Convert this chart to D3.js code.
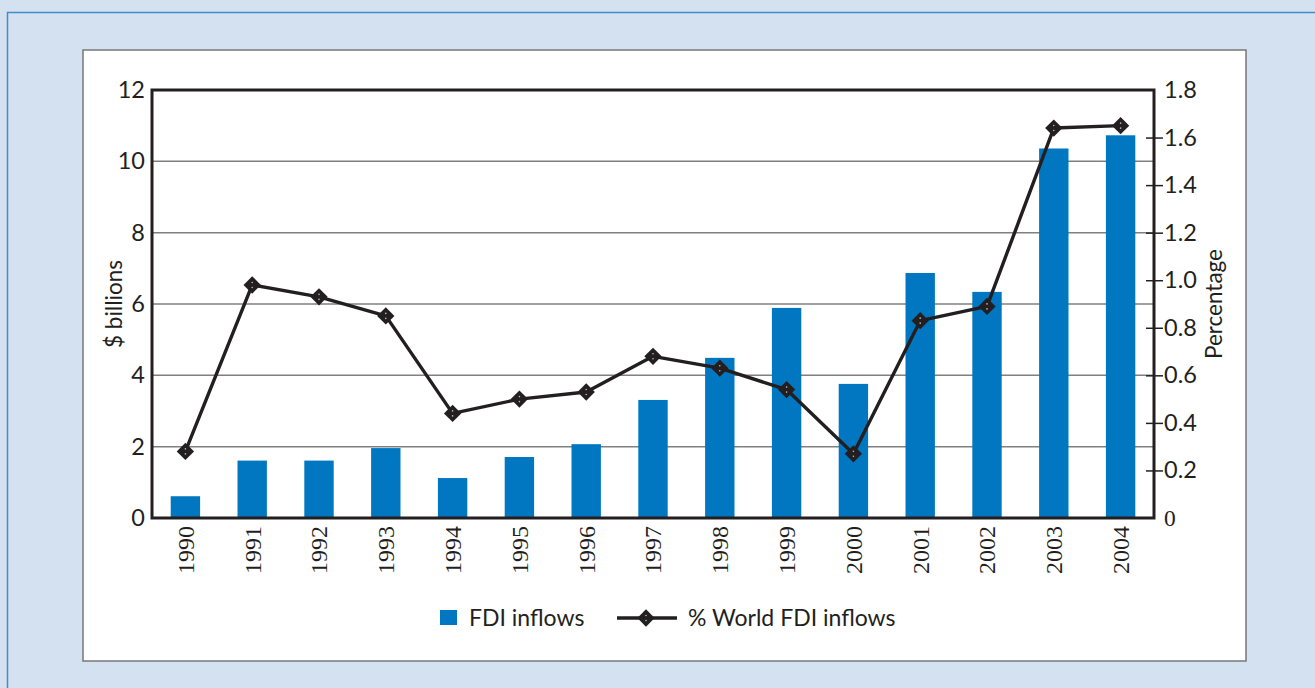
<!DOCTYPE html>
<html>
<head>
<meta charset="utf-8">
<script src="https://cdn.jsdelivr.net/npm/d3@7"></script>
<style>
  body { margin: 0; background: #d4e1f1; }
  svg { display: block; }
</style>
</head>
<body>
<div id="chart"></div>
<script>
// FDI inflows chart

const years = ["1990", "1991", "1992", "1993", "1994", "1995", "1996", "1997",
    "1998", "1999", "2000", "2001", "2002", "2003", "2004"];
const fdiInflows = [0.61, 1.61, 1.61, 1.96, 1.12, 1.71, 2.07, 3.31,
    4.49, 5.89, 3.76, 6.87, 6.34, 10.36, 10.73];
const worldShare = [0.28, 0.98, 0.93, 0.85, 0.44, 0.50, 0.53, 0.68,
    0.63, 0.54, 0.27, 0.83, 0.89, 1.64, 1.65];
const leftTicks = [0, 2, 4, 6, 8, 10, 12];
const rightTicks = [0, 0.2, 0.4, 0.6, 0.8, 1.0, 1.2, 1.4, 1.6, 1.8];

const width = 1315;
const height = 688;
const margin = {top: 90, right: 161, bottom: 170, left: 152};

const sans = "Lato, 'Open Sans', sans-serif";
const serif = "'Liberation Serif', 'DejaVu Serif', serif";
const ink = "#231f20";
const blue = "#0077c0";

const svg = d3.select("#chart")
    .append("svg")
    .attr("width", width)
    .attr("height", height);

// outer frame and white panel
svg.append("rect")
    .attr("x", 7.5).attr("y", 12.5)
    .attr("width", width).attr("height", height)
    .attr("fill", "#d4e1f1")
    .attr("stroke", "#3d8fcc")
    .attr("stroke-width", 1.5);

svg.append("rect")
    .attr("x", 83).attr("y", 50)
    .attr("width", 1163).attr("height", 611)
    .attr("fill", "#fff")
    .attr("stroke", "#777")
    .attr("stroke-width", 1.5);

const x = d3.scaleBand()
    .domain(years)
    .range([margin.left, width - margin.right])
    .paddingInner(0.56)
    .paddingOuter(0.28);

const yLeft = d3.scaleLinear()
    .domain([0, 12])
    .range([height - margin.bottom, margin.top]);

const yRight = d3.scaleLinear()
    .domain([0, 1.8])
    .range([height - margin.bottom, margin.top]);

const x0 = margin.left;
const x1 = width - margin.right;

// grid lines
svg.append("g")
    .selectAll("line")
    .data(leftTicks.filter(d => d > 0 && d < 12))
    .join("line")
    .attr("x1", x0).attr("x2", x1)
    .attr("y1", d => yLeft(d)).attr("y2", d => yLeft(d))
    .attr("stroke", "#808080")
    .attr("stroke-width", 1.5);

// bars
svg.append("g")
    .selectAll("rect")
    .data(fdiInflows)
    .join("rect")
    .attr("x", (d, i) => x(years[i]))
    .attr("y", d => yLeft(d))
    .attr("width", x.bandwidth())
    .attr("height", d => yLeft(0) - yLeft(d))
    .attr("fill", blue);

// plot frame
svg.append("rect")
    .attr("x", x0).attr("y", yLeft(12))
    .attr("width", x1 - x0).attr("height", yLeft(0) - yLeft(12))
    .attr("fill", "none")
    .attr("stroke", ink)
    .attr("stroke-width", 3);

// left axis
const leftAxis = svg.append("g")
    .attr("transform", `translate(${x0},0)`)
    .call(d3.axisLeft(yLeft).tickValues(leftTicks).tickSize(0).tickPadding(7));
leftAxis.select(".domain").remove();
leftAxis.selectAll("text")
    .attr("font-family", sans)
    .attr("font-size", 23.5)
    .attr("fill", ink);

// right axis
const rightAxis = svg.append("g")
    .attr("transform", `translate(${x1},0)`)
    .call(d3.axisRight(yRight).tickValues(rightTicks)
        .tickFormat(d => d === 0 ? "0" : d3.format(".1f")(d))
        .tickSize(8).tickPadding(4));
rightAxis.select(".domain").remove();
rightAxis.selectAll("line")
    .attr("x1", d => (d === 0 || d === 1.8) ? 0 : -8)
    .attr("x2", d => (d === 0 || d === 1.8) ? 0 : 9)
    .attr("stroke", ink)
    .attr("stroke-width", 1.5);
rightAxis.selectAll("text")
    .attr("x", 10)
    .attr("font-family", d => d === 0 ? serif : sans)
    .attr("font-size", 23.5)
    .attr("fill", ink);

// year labels
const xAxis = svg.append("g")
    .attr("transform", `translate(0,${yLeft(0)})`)
    .call(d3.axisBottom(x).tickSize(0));
xAxis.select(".domain").remove();
xAxis.selectAll("text")
    .attr("transform", "rotate(-90)")
    .attr("x", -8)
    .attr("y", 0)
    .attr("dy", "0.35em")
    .attr("text-anchor", "end")
    .attr("font-family", serif)
    .attr("font-size", 24)
    .attr("fill", ink);

// axis titles
svg.append("text")
    .attr("transform", `translate(122,${(yLeft(0) + yLeft(12)) / 2}) rotate(-90)`)
    .attr("text-anchor", "middle")
    .attr("font-family", sans)
    .attr("font-size", 22.5)
    .attr("fill", ink)
    .text("$ billions");

svg.append("text")
    .attr("transform", `translate(1222,${(yLeft(0) + yLeft(12)) / 2}) rotate(-90)`)
    .attr("text-anchor", "middle")
    .attr("font-family", sans)
    .attr("font-size", 22.5)
    .attr("fill", ink)
    .text("Percentage");

// line series
const line = d3.line()
    .x((d, i) => x(years[i]) + x.bandwidth() / 2)
    .y(d => yRight(d));

svg.append("path")
    .datum(worldShare)
    .attr("d", line)
    .attr("fill", "none")
    .attr("stroke", ink)
    .attr("stroke-width", 3.4)
    .attr("stroke-linejoin", "round");

const diamond = d3.symbol().type(d3.symbolSquare).size(150);

function drawMarker(g, cx, cy) {
    g.append("path")
        .attr("d", diamond())
        .attr("transform", `translate(${cx},${cy}) rotate(45)`)
        .attr("fill", ink);
    g.append("circle")
        .attr("cx", cx).attr("cy", cy - 2.5).attr("r", 0.8).attr("fill", "#bbb");
    g.append("circle")
        .attr("cx", cx).attr("cy", cy + 2.5).attr("r", 0.8).attr("fill", "#bbb");
}

const markers = svg.append("g");
worldShare.forEach((d, i) => {
    drawMarker(markers, x(years[i]) + x.bandwidth() / 2, yRight(d));
});

// legend
const legend = svg.append("g");
legend.append("rect")
    .attr("x", 440).attr("y", 610)
    .attr("width", 17).attr("height", 15)
    .attr("fill", blue);
legend.append("text")
    .attr("x", 469).attr("y", 626)
    .attr("font-family", sans)
    .attr("font-size", 23)
    .attr("fill", ink)
    .text("FDI inflows");
legend.append("line")
    .attr("x1", 617).attr("x2", 677)
    .attr("y1", 618).attr("y2", 618)
    .attr("stroke", ink)
    .attr("stroke-width", 3.4);
drawMarker(legend, 646, 618);
legend.append("text")
    .attr("x", 688).attr("y", 626)
    .attr("font-family", sans)
    .attr("font-size", 23)
    .attr("fill", ink)
    .text("% World FDI inflows");
</script>
</body>
</html>
